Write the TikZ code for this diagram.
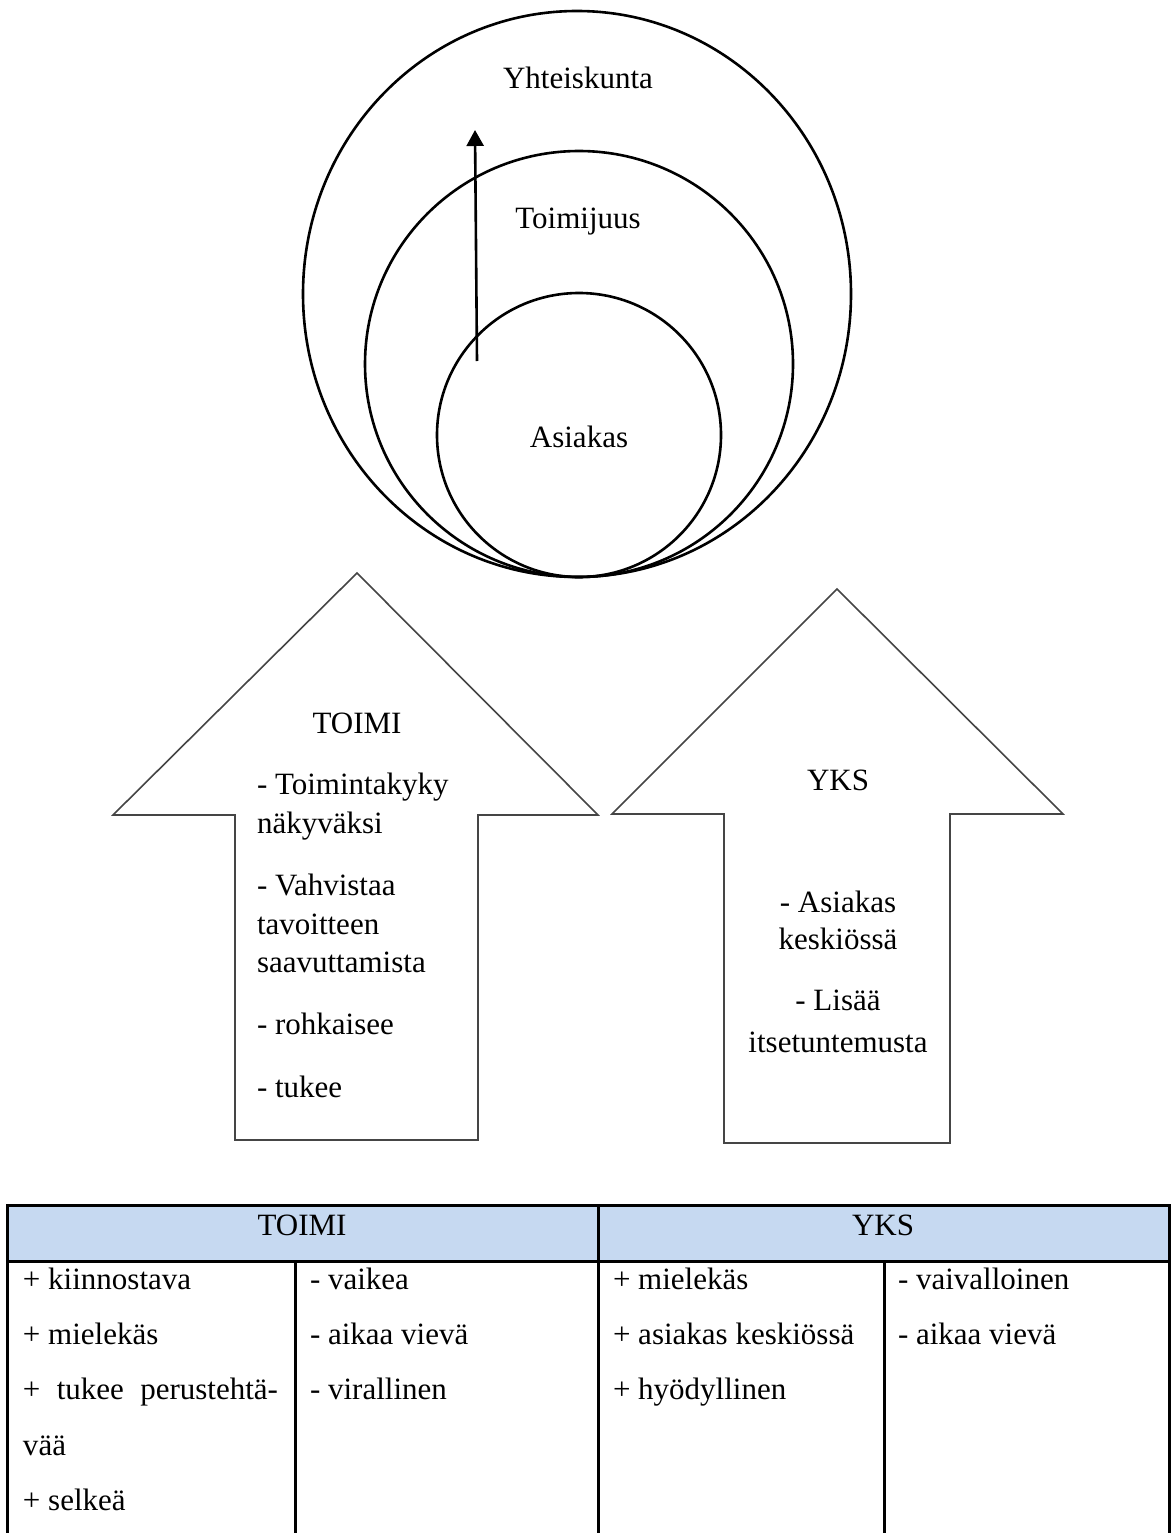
\documentclass[tikz,border=0pt]{standalone}
\usepackage{fontspec}
\setmainfont{Liberation Serif}
\usetikzlibrary{arrows.meta}
\definecolor{hdrblue}{HTML}{C6D9F1}
\definecolor{arrgray}{HTML}{454545}
\begin{document}
\begin{tikzpicture}[x=1pt,y=-1pt,
  txt/.style={font=\fontsize{31}{37}\selectfont, inner sep=0pt, outer sep=0pt},
  ring/.style={draw=black, line width=2.6pt},
  bigarrow/.style={draw=arrgray, line width=1.6pt, line join=miter, fill=white},
  tline/.style={draw=black, line width=3pt},
  upar/.style={line width=2.6pt, -{Triangle[length=16pt,width=17pt]}}
]
\useasboundingbox (0,0) rectangle (1171,1533);
\fill[white] (0,0) rectangle (1171,1533);

% ---- circles ----
\draw[ring] (577,294) ellipse [x radius=274, y radius=283];
\draw[ring] (579,364) ellipse [x radius=214, y radius=213];
\draw[ring] (579,435) ellipse [x radius=142, y radius=142];
\coordinate (arrS) at (477,361);
\coordinate (arrE) at (475,130);
\draw[upar] (arrS) -- (arrE);
\node[txt, anchor=base] (yht) at (578,89) {Yhteiskunta};
\node[txt, anchor=base] (toij) at (578,229) {Toimijuus};
\node[txt, anchor=base] (asi) at (579,447) {Asiakas};

% ---- left arrow (TOIMI) ----
\draw[bigarrow] (357,573) -- (598,815) -- (478,815) -- (478,1140) -- (235,1140) -- (235,815) -- (113,815) -- cycle;
\node[txt, anchor=base] (ltitle) at (357,733) {TOIMI};
\node[txt, anchor=base west] (l1) at (257,794) {- Toimintakyky};
\node[txt, anchor=base west] (l2) at (257,833) {näkyväksi};
\node[txt, anchor=base west] (l3) at (257,895) {- Vahvistaa};
\node[txt, anchor=base west] (l4) at (257,934) {tavoitteen};
\node[txt, anchor=base west] (l5) at (257,972) {saavuttamista};
\node[txt, anchor=base west] (l6) at (257,1034) {- rohkaisee};
\node[txt, anchor=base west] (l7) at (257,1097) {- tukee};

% ---- right arrow (YKS) ----
\draw[bigarrow] (837,589) -- (1063,814) -- (950,814) -- (950,1143) -- (724,1143) -- (724,814) -- (612,814) -- cycle;
\node[txt, anchor=base] (rtitle) at (838,790) {YKS};
\node[txt, anchor=base] (r1) at (838,912) {- Asiakas};
\node[txt, anchor=base] (r2) at (838,949) {keskiössä};
\node[txt, anchor=base] (r3) at (838,1010) {- Lisää};
\node[txt, anchor=base] (r4) at (838,1052) {itsetuntemusta};

% ---- table ----
\fill[hdrblue] (7,1205) rectangle (1169,1261);
\draw[tline] (7,1533) -- (7,1205) -- (1169,1205) -- (1169,1533);
\draw[tline] (7,1261) -- (1169,1261);
\draw[tline] (598,1205) -- (598,1533);
\draw[tline] (295,1261) -- (295,1533);
\draw[tline] (884,1261) -- (884,1533);

\node[txt, anchor=base] (h1) at (302,1235) {TOIMI};
\node[txt, anchor=base] (h2) at (883,1235) {YKS};

\node[txt, anchor=base west] (a1) at (23,1289) {+ kiinnostava};
\node[txt, anchor=base west] (a2) at (23,1344) {+ mielekäs};
\node[txt, anchor=base west] (a3) at (23,1399) {\makebox[255pt][s]{+ tukee perustehtä-}};
\node[txt, anchor=base west] (a4) at (23,1455) {vää};
\node[txt, anchor=base west] (a5) at (23,1510) {+ selkeä};

\node[txt, anchor=base west] (b1) at (310,1289) {- vaikea};
\node[txt, anchor=base west] (b2) at (310,1344) {- aikaa vievä};
\node[txt, anchor=base west] (b3) at (310,1399) {- virallinen};

\node[txt, anchor=base west] (c1) at (613,1289) {+ mielekäs};
\node[txt, anchor=base west] (c2) at (613,1344) {+ asiakas keskiössä};
\node[txt, anchor=base west] (c3) at (613,1399) {+ hyödyllinen};

\node[txt, anchor=base west] (d1) at (898,1289) {- vaivalloinen};
\node[txt, anchor=base west] (d2) at (898,1344) {- aikaa vievä};
\end{tikzpicture}
\end{document}
